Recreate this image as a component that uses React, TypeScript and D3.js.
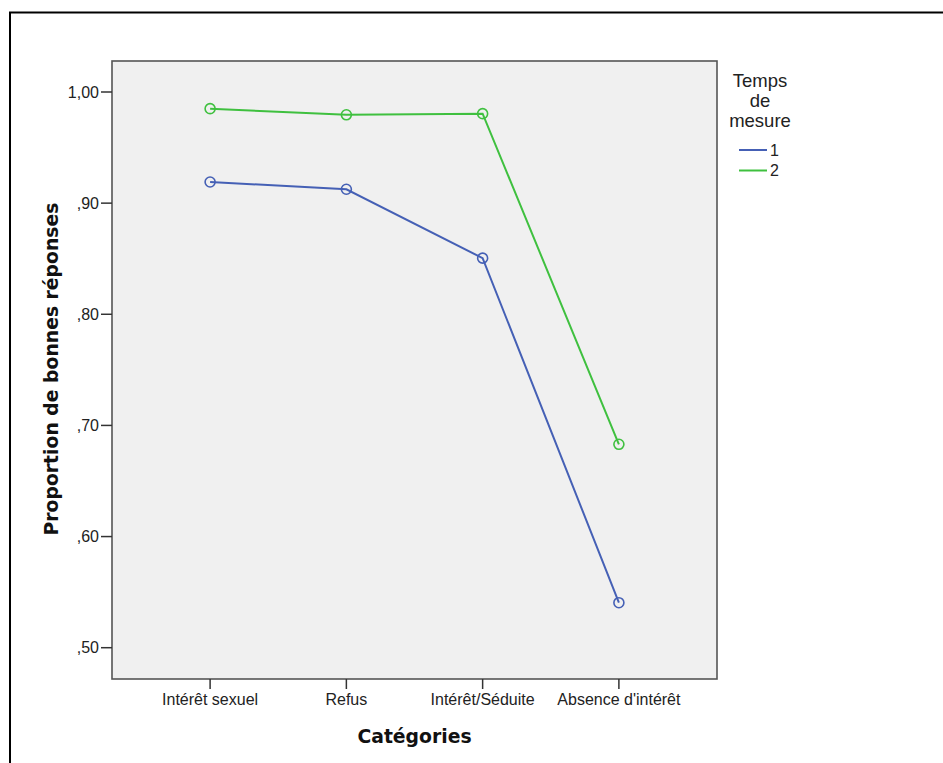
import React from "react";
import * as d3 from "d3";

const categories = ["Intérêt sexuel", "Refus", "Intérêt/Séduite", "Absence d'intérêt"];
const series1 = [0.919, 0.9125, 0.8505, 0.5405];
const series2 = [0.985, 0.9795, 0.9805, 0.683];
const seriesNames = ["1", "2"];
const yTicks = [0.5, 0.6, 0.7, 0.8, 0.9, 1.0];
const colors = ["#4560b5", "#3fc03f"];

const W = 943;
const H = 763;
const plot = { left: 112, top: 61, right: 717, bottom: 679 };

export default function App() {
  const x = d3
    .scalePoint<string>()
    .domain(categories)
    .range([plot.left, plot.right])
    .padding(0.72);
  const y = d3.scaleLinear().domain([0.5, 1.0]).range([647.7, 92]);
  const line = d3
    .line<number>()
    .x((_, i) => x(categories[i]) as number)
    .y((d) => y(d));
  const allSeries = [series1, series2];
  const fmt = (v: number) => {
    const s = d3.format(".2f")(v).replace(".", ",");
    return s.startsWith("0") ? s.slice(1) : s;
  };
  const font = "'Liberation Sans', Arial, sans-serif";
  const boldFont = "'DejaVu Sans', sans-serif";

  return (
    <svg
      width={W}
      height={H}
      style={{ position: "absolute", left: 0, top: 0, background: "#fff" }}
    >
      <rect x={10} y={12.5} width={960} height={800} fill="#fff" stroke="#000" strokeWidth={2} />
      <rect
        x={plot.left}
        y={plot.top}
        width={plot.right - plot.left}
        height={plot.bottom - plot.top}
        fill="#f0f0f0"
        stroke="#555"
        strokeWidth={1.6}
      />
      {yTicks.map((t) => (
        <g key={t}>
          <line x1={101} x2={plot.left} y1={y(t)} y2={y(t)} stroke="#333" strokeWidth={1.5} />
          <text
            x={99}
            y={y(t)}
            dy="0.35em"
            textAnchor="end"
            fontFamily={font}
            fontSize={16}
            fill="#222"
          >
            {fmt(t)}
          </text>
        </g>
      ))}
      {categories.map((c) => (
        <g key={c}>
          <line
            x1={x(c)}
            x2={x(c)}
            y1={plot.bottom}
            y2={plot.bottom + 10}
            stroke="#333"
            strokeWidth={1.5}
          />
          <text
            x={x(c)}
            y={705}
            textAnchor="middle"
            fontFamily={font}
            fontSize={16}
            fill="#222"
          >
            {c}
          </text>
        </g>
      ))}
      {allSeries.map((s, si) => (
        <g key={si}>
          <path d={line(s) || ""} fill="none" stroke={colors[si]} strokeWidth={2} />
          {s.map((v, i) => (
            <circle
              key={i}
              cx={x(categories[i])}
              cy={y(v)}
              r={5}
              fill="none"
              stroke={colors[si]}
              strokeWidth={1.6}
            />
          ))}
        </g>
      ))}
      <text
        x={414.5}
        y={743}
        textAnchor="middle"
        fontFamily={boldFont}
        fontWeight="bold"
        fontSize={18.8}
        fill="#111"
      >
        Catégories
      </text>
      <text
        transform={`translate(58,369) rotate(-90)`}
        textAnchor="middle"
        fontFamily={boldFont}
        fontWeight="bold"
        fontSize={18.8}
        fill="#111"
      >
        Proportion de bonnes réponses
      </text>
      {["Temps", "de", "mesure"].map((t, i) => (
        <text
          key={t}
          x={760}
          y={87 + i * 20}
          textAnchor="middle"
          fontFamily={font}
          fontSize={18.5}
          fill="#222"
        >
          {t}
        </text>
      ))}
      {seriesNames.map((n, i) => (
        <g key={n}>
          <line
            x1={739}
            x2={767}
            y1={150 + i * 20.5}
            y2={150 + i * 20.5}
            stroke={colors[i]}
            strokeWidth={2}
          />
          <text
            x={770}
            y={150 + i * 20.5}
            dy="0.35em"
            fontFamily={font}
            fontSize={16}
            fill="#222"
          >
            {n}
          </text>
        </g>
      ))}
    </svg>
  );
}
